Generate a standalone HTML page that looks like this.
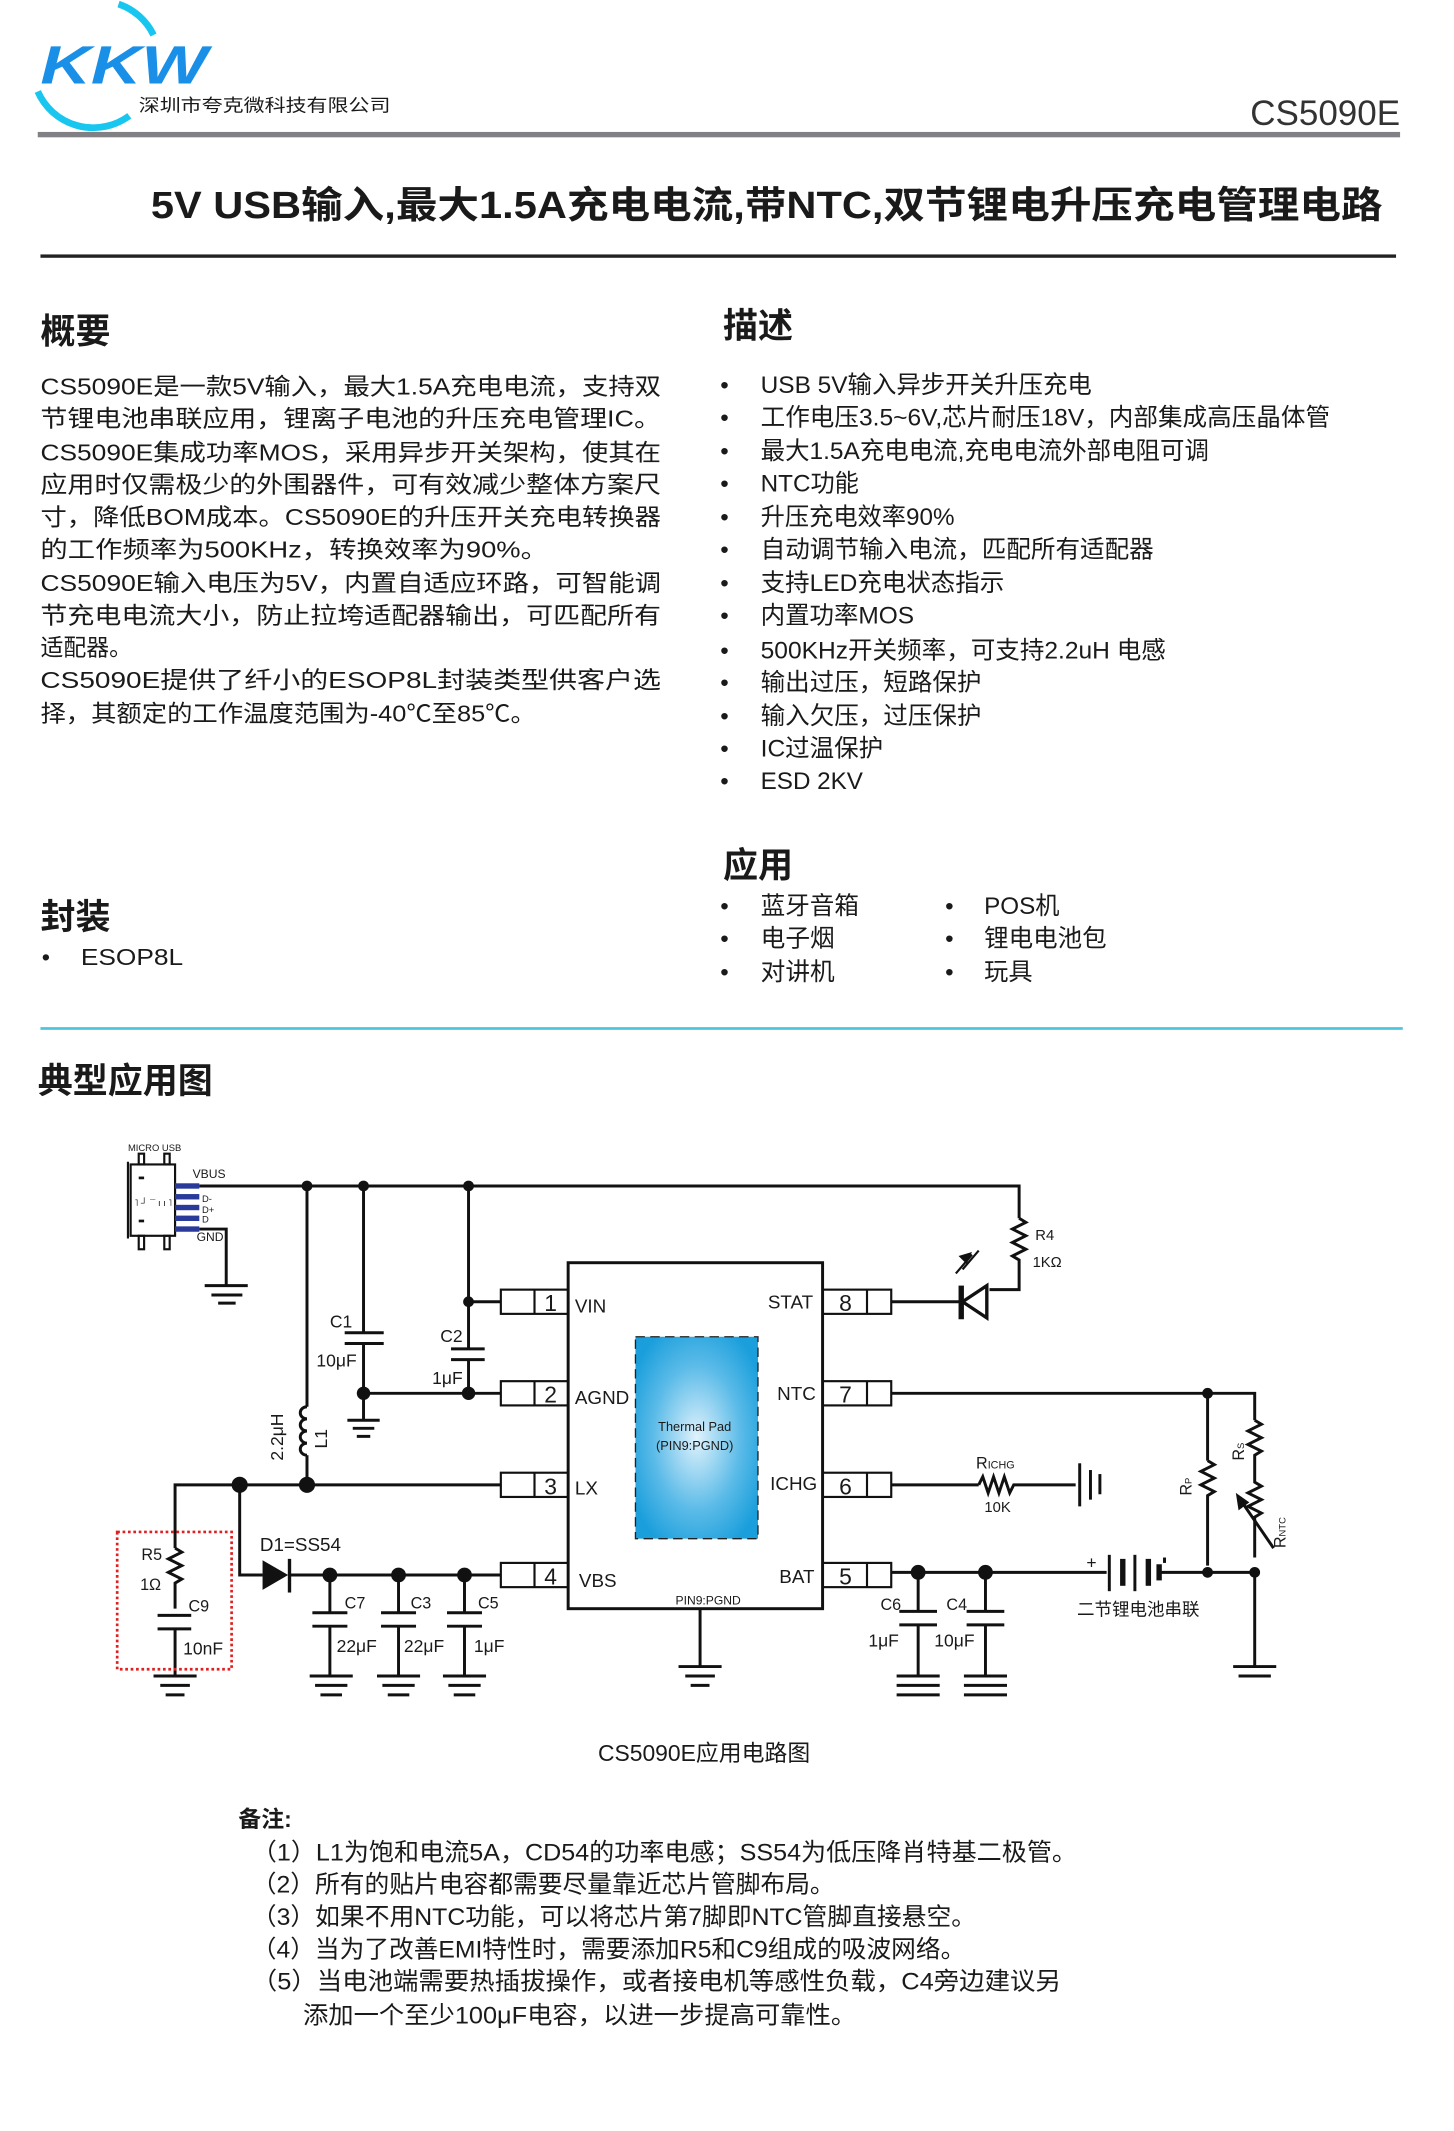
<!DOCTYPE html>
<html><head><meta charset="utf-8"><style>
html,body{margin:0;padding:0;background:#fff}
svg{display:block}
text{font-family:"Liberation Sans","Noto Sans CJK SC",sans-serif;fill:#1a1a1a}
.b{font-weight:bold}
.w{stroke:#111;stroke-width:2.2;fill:none}
.t{stroke:#111;stroke-width:1.6;fill:none}
</style></head><body>
<svg width="1454" height="2131" viewBox="0 0 1080 1583" xmlns="http://www.w3.org/2000/svg">
<defs>
<radialGradient id="pad2" cx="0.5" cy="0.5" r="0.6"><stop offset="0" stop-color="#e0f2fc"/><stop offset="0.6" stop-color="#5bbbe8"/><stop offset="1" stop-color="#1b9fdc"/></radialGradient>
</defs>
<!-- header -->
<path d="M88 3 A45 45 0 0 1 114 26" stroke="#18c6f0" stroke-width="5" fill="none"/>
<path d="M28 68 A45 45 0 0 0 96 86" stroke="#18c6f0" stroke-width="5" fill="none"/>
<text x="30" y="62" font-size="40" font-style="italic" font-weight="bold" style="fill:#1a8fe8" textLength="124" lengthAdjust="spacingAndGlyphs">KKW</text>
<text x="103" y="83" font-size="13" textLength="187" lengthAdjust="spacingAndGlyphs">深圳市夸克微科技有限公司</text>
<text x="1040" y="93" font-size="26" text-anchor="end" style="fill:#333">CS5090E</text>
<rect x="28" y="98" width="1012" height="4" fill="#808085"/>
<text x="112" y="162" font-size="28" class="b" textLength="915" lengthAdjust="spacingAndGlyphs">5V USB输入,最大1.5A充电电流,带NTC,双节锂电升压充电管理电路</text>
<rect x="30" y="189" width="1007" height="2.5" fill="#222"/>
<!-- 概要 -->
<text x="30" y="255" font-size="26" class="b">概要</text>
<g font-size="17.5">
<text x="30" y="293" textLength="461" lengthAdjust="spacingAndGlyphs">CS5090E是一款5V输入，最大1.5A充电电流，支持双</text>
<text x="30" y="317" textLength="461" lengthAdjust="spacingAndGlyphs">节锂电池串联应用，锂离子电池的升压充电管理IC。</text>
<text x="30" y="342" textLength="461" lengthAdjust="spacingAndGlyphs">CS5090E集成功率MOS，采用异步开关架构，使其在</text>
<text x="30" y="366" textLength="461" lengthAdjust="spacingAndGlyphs">应用时仅需极少的外围器件，可有效减少整体方案尺</text>
<text x="30" y="390" textLength="461" lengthAdjust="spacingAndGlyphs">寸，降低BOM成本。CS5090E的升压开关充电转换器</text>
<text x="30" y="414" textLength="377" lengthAdjust="spacingAndGlyphs">的工作频率为500KHz，转换效率为90%。</text>
<text x="30" y="439" textLength="461" lengthAdjust="spacingAndGlyphs">CS5090E输入电压为5V，内置自适应环路，可智能调</text>
<text x="30" y="463" textLength="461" lengthAdjust="spacingAndGlyphs">节充电电流大小，防止拉垮适配器输出，可匹配所有</text>
<text x="30" y="487" textLength="68" lengthAdjust="spacingAndGlyphs">适配器。</text>
<text x="30" y="511" textLength="461" lengthAdjust="spacingAndGlyphs">CS5090E提供了纤小的ESOP8L封装类型供客户选</text>
<text x="30" y="536" textLength="368" lengthAdjust="spacingAndGlyphs">择，其额定的工作温度范围为-40℃至85℃。</text>
</g>
<!-- 描述 -->
<text x="537" y="251" font-size="26" class="b">描述</text>
<g font-size="18">
<text x="535" y="292">•</text><text x="565" y="292" textLength="246" lengthAdjust="spacingAndGlyphs">USB 5V输入异步开关升压充电</text>
<text x="535" y="316">•</text><text x="565" y="316" textLength="423" lengthAdjust="spacingAndGlyphs">工作电压3.5~6V,芯片耐压18V，内部集成高压晶体管</text>
<text x="535" y="341">•</text><text x="565" y="341" textLength="333" lengthAdjust="spacingAndGlyphs">最大1.5A充电电流,充电电流外部电阻可调</text>
<text x="535" y="365">•</text><text x="565" y="365" textLength="73" lengthAdjust="spacingAndGlyphs">NTC功能</text>
<text x="535" y="390">•</text><text x="565" y="390" textLength="144" lengthAdjust="spacingAndGlyphs">升压充电效率90%</text>
<text x="535" y="414">•</text><text x="565" y="414" textLength="292" lengthAdjust="spacingAndGlyphs">自动调节输入电流，匹配所有适配器</text>
<text x="535" y="439">•</text><text x="565" y="439" textLength="181" lengthAdjust="spacingAndGlyphs">支持LED充电状态指示</text>
<text x="535" y="463">•</text><text x="565" y="463" textLength="114" lengthAdjust="spacingAndGlyphs">内置功率MOS</text>
<text x="535" y="489">•</text><text x="565" y="489" textLength="301" lengthAdjust="spacingAndGlyphs">500KHz开关频率，可支持2.2uH 电感</text>
<text x="535" y="513">•</text><text x="565" y="513" textLength="164" lengthAdjust="spacingAndGlyphs">输出过压，短路保护</text>
<text x="535" y="538">•</text><text x="565" y="538" textLength="164" lengthAdjust="spacingAndGlyphs">输入欠压，过压保护</text>
<text x="535" y="562">•</text><text x="565" y="562" textLength="91" lengthAdjust="spacingAndGlyphs">IC过温保护</text>
<text x="535" y="586">•</text><text x="565" y="586" textLength="76" lengthAdjust="spacingAndGlyphs">ESD 2KV</text>
</g>
<text x="537" y="652" font-size="26" class="b">应用</text>
<g font-size="18">
<text x="535" y="679">•</text><text x="565" y="679" textLength="73" lengthAdjust="spacingAndGlyphs">蓝牙音箱</text>
<text x="535" y="703">•</text><text x="565" y="703" textLength="55" lengthAdjust="spacingAndGlyphs">电子烟</text>
<text x="535" y="728">•</text><text x="565" y="728" textLength="55" lengthAdjust="spacingAndGlyphs">对讲机</text>
<text x="702" y="679">•</text><text x="731" y="679" textLength="56" lengthAdjust="spacingAndGlyphs">POS机</text>
<text x="702" y="703">•</text><text x="731" y="703" textLength="91" lengthAdjust="spacingAndGlyphs">锂电电池包</text>
<text x="702" y="728">•</text><text x="731" y="728" textLength="36" lengthAdjust="spacingAndGlyphs">玩具</text>
</g>
<text x="30" y="690" font-size="26" class="b">封装</text>
<text x="31" y="717" font-size="17.5">•</text><text x="60" y="717" font-size="17.5" textLength="76" lengthAdjust="spacingAndGlyphs">ESOP8L</text>
<rect x="30" y="763" width="1012" height="2" fill="#4cc4dc"/>
<text x="28" y="812" font-size="26" class="b">典型应用图</text>

<!-- ===== circuit ===== -->
<text x="95" y="855" font-size="7">MICRO USB</text>
<rect x="97" y="865" width="33" height="53" class="t"/>
<line x1="95" y1="863" x2="95" y2="920" class="t" stroke-width="1"/>
<rect x="103" y="857" width="4" height="8" class="t" stroke-width="1.3"/>
<rect x="122" y="857" width="4" height="8" class="t" stroke-width="1.3"/>
<rect x="103" y="918" width="4" height="10" class="t" stroke-width="1.3"/>
<rect x="122" y="918" width="4" height="10" class="t" stroke-width="1.3"/>
<rect x="103" y="874" width="4" height="2" fill="#111"/><rect x="103" y="906" width="4" height="2" fill="#111"/>
<text x="100" y="896" font-size="7">˥ ┘ ¯ ı ı ˥</text>
<g fill="#2a3a9a"><rect x="130" y="879" width="18" height="4"/><rect x="130" y="887" width="18" height="4"/><rect x="130" y="895" width="18" height="4"/><rect x="130" y="903" width="18" height="4"/><rect x="130" y="911" width="18" height="4"/></g>
<text x="143" y="875" font-size="9">VBUS</text>
<text x="150" y="893" font-size="7">D-</text><text x="150" y="901" font-size="7">D+</text><text x="150" y="908" font-size="7">D</text>
<text x="146" y="922" font-size="9">GND</text>
<polyline points="148,913 168,913 168,955" class="w" stroke-width="1.6"/>
<line x1="152" y1="955" x2="184" y2="955" class="w"/><line x1="157" y1="962" x2="180" y2="962" class="w"/><line x1="162" y1="968" x2="175" y2="968" class="w"/>
<polyline points="148,881 757,881 757,905" class="w"/>
<path d="M757 905 l5 3 l-10 5 l10 5 l-10 5 l10 5 l-10 5 l5 3 v22 h-22" class="w"/>
<text x="769" y="921" font-size="11">R4</text><text x="767" y="941" font-size="11">1KΩ</text>
<polyline points="662,967 713,967" class="w"/>
<path d="M733 955 L733 979 L715 967 Z" fill="none" stroke="#111" stroke-width="2.5"/>
<line x1="714" y1="955" x2="714" y2="980" stroke="#111" stroke-width="4"/>
<line x1="710" y1="946" x2="722" y2="932" class="t"/><path d="M722 930 l-10 3 l6 6z" fill="#111"/>
<line x1="715" y1="943" x2="727" y2="929" class="t"/>
<circle cx="228" cy="881" r="4" fill="#111"/><circle cx="270" cy="881" r="4" fill="#111"/><circle cx="348" cy="881" r="4" fill="#111"/>
<line x1="228" y1="881" x2="228" y2="1045" class="w"/>
<path d="M228 1045 a5 4.5 0 0 0 0 9 a5 4.5 0 0 0 0 9 a5 4.5 0 0 0 0 9 a5 4.5 0 0 0 0 9" class="w"/>
<line x1="228" y1="1081" x2="228" y2="1103" class="w"/>
<text transform="translate(210,1085) rotate(-90)" font-size="13">2.2μH</text>
<text transform="translate(243,1076) rotate(-90)" font-size="13">L1</text>
<line x1="270" y1="881" x2="270" y2="990" class="w"/>
<line x1="256" y1="990" x2="285" y2="990" class="w" stroke-width="2.5"/><line x1="256" y1="998" x2="285" y2="998" class="w" stroke-width="2.5"/>
<line x1="270" y1="998" x2="270" y2="1055" class="w"/>
<line x1="258" y1="1055" x2="282" y2="1055" class="w" stroke-width="2.5"/><line x1="262" y1="1061" x2="278" y2="1061" class="w"/><line x1="265" y1="1067" x2="275" y2="1067" class="w"/>
<text x="245" y="986" font-size="13">C1</text><text x="235" y="1015" font-size="13">10μF</text>
<line x1="348" y1="881" x2="348" y2="1002" class="w"/>
<line x1="335" y1="1002" x2="360" y2="1002" class="w" stroke-width="2.5"/><line x1="335" y1="1010" x2="360" y2="1010" class="w" stroke-width="2.5"/>
<line x1="348" y1="1010" x2="348" y2="1035" class="w"/>
<text x="327" y="997" font-size="13">C2</text><text x="321" y="1028" font-size="13">1μF</text>
<line x1="348" y1="967" x2="372" y2="967" class="w"/><circle cx="348" cy="967" r="4" fill="#111"/>
<line x1="270" y1="1035" x2="372" y2="1035" class="w"/><circle cx="270" cy="1035" r="5" fill="#111"/><circle cx="348" cy="1035" r="5" fill="#111"/>
<rect x="422" y="938" width="189" height="257" class="w"/>
<rect x="472" y="993" width="91" height="150" fill="url(#pad2)" stroke="#222" stroke-width="1" stroke-dasharray="7,4"/>
<text x="516" y="1063" font-size="9.5" text-anchor="middle">Thermal Pad</text>
<text x="516" y="1077" font-size="9.5" text-anchor="middle">(PIN9:PGND)</text>
<text x="526" y="1192" font-size="9" text-anchor="middle">PIN9:PGND</text>
<line x1="520" y1="1195" x2="520" y2="1238" class="w"/>
<line x1="504" y1="1238" x2="536" y2="1238" class="w"/><line x1="509" y1="1245" x2="531" y2="1245" class="w"/><line x1="513" y1="1252" x2="527" y2="1252" class="w"/>
<g class="t" stroke-width="1.8">
<rect x="372" y="958" width="50" height="18"/><line x1="397" y1="958" x2="397" y2="976"/>
<rect x="372" y="1026" width="50" height="18"/><line x1="397" y1="1026" x2="397" y2="1044"/>
<rect x="372" y="1094" width="50" height="18"/><line x1="397" y1="1094" x2="397" y2="1112"/>
<rect x="372" y="1161" width="50" height="18"/><line x1="397" y1="1161" x2="397" y2="1179"/>
<rect x="611" y="958" width="51" height="18"/><line x1="644" y1="958" x2="644" y2="976"/>
<rect x="611" y="1026" width="51" height="18"/><line x1="644" y1="1026" x2="644" y2="1044"/>
<rect x="611" y="1094" width="51" height="18"/><line x1="644" y1="1094" x2="644" y2="1112"/>
<rect x="611" y="1161" width="51" height="18"/><line x1="644" y1="1161" x2="644" y2="1179"/>
</g>
<g font-size="17" text-anchor="middle">
<text x="409" y="974">1</text><text x="409" y="1042">2</text><text x="409" y="1110">3</text><text x="409" y="1177">4</text>
<text x="628" y="974">8</text><text x="628" y="1042">7</text><text x="628" y="1110">6</text><text x="628" y="1177">5</text>
</g>
<g font-size="14">
<text x="427" y="975">VIN</text><text x="427" y="1043">AGND</text><text x="427" y="1110">LX</text><text x="430" y="1179">VBS</text>
<text x="604" y="972" text-anchor="end">STAT</text><text x="606" y="1040" text-anchor="end">NTC</text><text x="607" y="1107" text-anchor="end">ICHG</text><text x="605" y="1176" text-anchor="end">BAT</text>
</g>
<polyline points="130,1150 130,1103 372,1103" class="w"/>
<circle cx="178" cy="1103" r="6" fill="#111"/><circle cx="228" cy="1103" r="6" fill="#111"/>
<path d="M130 1150 l5 3 l-10 5 l10 5 l-10 5 l10 5 l-5 3 v19" class="w"/>
<line x1="117" y1="1200" x2="142" y2="1200" class="w" stroke-width="2.5"/><line x1="117" y1="1210" x2="142" y2="1210" class="w" stroke-width="2.5"/>
<line x1="130" y1="1210" x2="130" y2="1245" class="w"/>
<line x1="114" y1="1245" x2="146" y2="1245" class="w"/><line x1="119" y1="1252" x2="141" y2="1252" class="w"/><line x1="123" y1="1259" x2="137" y2="1259" class="w"/>
<text x="105" y="1159" font-size="12">R5</text><text x="104" y="1181" font-size="12">1Ω</text>
<text x="140" y="1197" font-size="12">C9</text><text x="136" y="1229" font-size="13">10nF</text>
<rect x="87" y="1138" width="85" height="102" fill="none" stroke="#e02020" stroke-width="2" stroke-dasharray="2,2"/>
<polyline points="178,1103 178,1170 195,1170" class="w"/>
<path d="M195 1159 L195 1181 L214 1170 Z" fill="#111"/><line x1="215" y1="1158" x2="215" y2="1183" stroke="#111" stroke-width="2.5"/>
<line x1="215" y1="1170" x2="372" y2="1170" class="w"/>
<text x="193" y="1152" font-size="14">D1=SS54</text>
<g>
<circle cx="245" cy="1170" r="5.5" fill="#111"/><circle cx="296" cy="1170" r="5.5" fill="#111"/><circle cx="345" cy="1170" r="5.5" fill="#111"/>
<line x1="245" y1="1170" x2="245" y2="1198" class="w"/><line x1="296" y1="1170" x2="296" y2="1198" class="w"/><line x1="345" y1="1170" x2="345" y2="1198" class="w"/>
<g class="w" stroke-width="2.5">
<line x1="232" y1="1198" x2="258" y2="1198"/><line x1="232" y1="1208" x2="258" y2="1208"/>
<line x1="283" y1="1198" x2="309" y2="1198"/><line x1="283" y1="1208" x2="309" y2="1208"/>
<line x1="332" y1="1198" x2="358" y2="1198"/><line x1="332" y1="1208" x2="358" y2="1208"/>
</g>
<line x1="245" y1="1208" x2="245" y2="1245" class="w"/><line x1="296" y1="1208" x2="296" y2="1245" class="w"/><line x1="345" y1="1208" x2="345" y2="1245" class="w"/>
<g class="w">
<line x1="230" y1="1245" x2="262" y2="1245"/><line x1="234" y1="1252" x2="258" y2="1252"/><line x1="238" y1="1259" x2="254" y2="1259"/>
<line x1="280" y1="1245" x2="312" y2="1245"/><line x1="284" y1="1252" x2="308" y2="1252"/><line x1="288" y1="1259" x2="304" y2="1259"/>
<line x1="329" y1="1245" x2="361" y2="1245"/><line x1="333" y1="1252" x2="357" y2="1252"/><line x1="337" y1="1259" x2="353" y2="1259"/>
</g>
<text x="256" y="1195" font-size="12">C7</text><text x="305" y="1195" font-size="12">C3</text><text x="355" y="1195" font-size="12">C5</text>
<text x="250" y="1227" font-size="13">22μF</text><text x="300" y="1227" font-size="13">22μF</text><text x="352" y="1227" font-size="13">1μF</text>
</g>
<polyline points="662,1035 932,1035 932,1055" class="w"/>
<circle cx="897" cy="1035" r="4" fill="#111"/>
<path d="M932 1055 l5 3 l-10 5 l10 5 l-10 5 l10 5 l-5 3 v20 l5 3 l-10 5 l10 5 l-10 5 l10 5 l-5 3 v30" class="w"/>
<line x1="922" y1="1115" x2="946" y2="1150" class="w"/><path d="M918 1109 l2 13 l8 -6 z" fill="#111"/>
<line x1="897" y1="1035" x2="897" y2="1085" class="w"/>
<path d="M897 1085 l5 3 l-10 5 l10 5 l-10 5 l10 5 l-5 3 v52" class="w"/>
<text transform="translate(924,1085) rotate(-90)" font-size="12">R<tspan font-size="7">S</tspan></text>
<text transform="translate(885,1111) rotate(-90)" font-size="12">R<tspan font-size="7">P</tspan></text>
<text transform="translate(955,1150) rotate(-90)" font-size="12">R<tspan font-size="7">NTC</tspan></text>
<line x1="662" y1="1103" x2="727" y2="1103" class="w"/>
<path d="M727 1103 l3 -6 l4 12 l4 -12 l4 12 l4 -12 l4 12 l3 -6 h46" class="w"/>
<line x1="802" y1="1087" x2="802" y2="1119" class="w"/><line x1="810" y1="1092" x2="810" y2="1114" class="w"/><line x1="817" y1="1095" x2="817" y2="1110" class="w"/>
<text x="725" y="1091" font-size="12">R<tspan font-size="8">ICHG</tspan></text>
<text x="741" y="1123" font-size="11" text-anchor="middle">10K</text>
<line x1="662" y1="1168" x2="822" y2="1168" class="w"/>
<circle cx="682" cy="1168" r="5.5" fill="#111"/><circle cx="732" cy="1168" r="5.5" fill="#111"/>
<line x1="824" y1="1155" x2="824" y2="1182" class="w"/><rect x="832" y="1158" width="4" height="20" fill="#111"/>
<line x1="843" y1="1155" x2="843" y2="1182" class="w"/><rect x="851" y="1158" width="4" height="20" fill="#111"/>
<line x1="861" y1="1162" x2="861" y2="1174" stroke="#111" stroke-width="4"/>
<line x1="865" y1="1157" x2="865" y2="1161" class="w"/>
<line x1="861" y1="1168" x2="932" y2="1168" class="w"/>
<circle cx="897" cy="1168" r="4" fill="#111"/><circle cx="932" cy="1168" r="4" fill="#111"/>
<line x1="932" y1="1168" x2="932" y2="1238" class="w"/>
<line x1="916" y1="1238" x2="948" y2="1238" class="w"/><line x1="920" y1="1245" x2="944" y2="1245" class="w"/>
<text x="807" y="1165" font-size="13">+</text>
<text x="800" y="1200" font-size="13">二节锂电池串联</text>
<line x1="682" y1="1168" x2="682" y2="1197" class="w"/><line x1="732" y1="1168" x2="732" y2="1197" class="w"/>
<g class="w" stroke-width="2.5">
<line x1="668" y1="1197" x2="696" y2="1197"/><line x1="668" y1="1207" x2="696" y2="1207"/>
<line x1="718" y1="1197" x2="746" y2="1197"/><line x1="718" y1="1207" x2="746" y2="1207"/>
</g>
<line x1="682" y1="1207" x2="682" y2="1245" class="w"/><line x1="732" y1="1207" x2="732" y2="1245" class="w"/>
<g class="w">
<line x1="666" y1="1245" x2="698" y2="1245"/><line x1="666" y1="1252" x2="698" y2="1252"/><line x1="666" y1="1259" x2="698" y2="1259"/>
<line x1="716" y1="1245" x2="748" y2="1245"/><line x1="716" y1="1252" x2="748" y2="1252"/><line x1="716" y1="1259" x2="748" y2="1259"/>
</g>
<text x="654" y="1196" font-size="12">C6</text><text x="703" y="1196" font-size="12">C4</text>
<text x="645" y="1223" font-size="13">1μF</text><text x="694" y="1223" font-size="13">10μF</text>
<text x="523" y="1308" font-size="17" text-anchor="middle">CS5090E应用电路图</text>
<text x="177" y="1357" font-size="17" class="b">备注:</text>
<g font-size="18">
<text x="187" y="1382" textLength="613" lengthAdjust="spacingAndGlyphs">（1）L1为饱和电流5A，CD54的功率电感；SS54为低压降肖特基二极管。</text>
<text x="187" y="1406" textLength="433" lengthAdjust="spacingAndGlyphs">（2）所有的贴片电容都需要尽量靠近芯片管脚布局。</text>
<text x="187" y="1430" textLength="538" lengthAdjust="spacingAndGlyphs">（3）如果不用NTC功能，可以将芯片第7脚即NTC管脚直接悬空。</text>
<text x="187" y="1454" textLength="530" lengthAdjust="spacingAndGlyphs">（4）当为了改善EMI特性时，需要添加R5和C9组成的吸波网络。</text>
<text x="187" y="1478" textLength="601" lengthAdjust="spacingAndGlyphs">（5）当电池端需要热插拔操作，或者接电机等感性负载，C4旁边建议另</text>
<text x="225" y="1503" textLength="411" lengthAdjust="spacingAndGlyphs">添加一个至少100μF电容，以进一步提高可靠性。</text>
</g>
</svg>
</body></html>
